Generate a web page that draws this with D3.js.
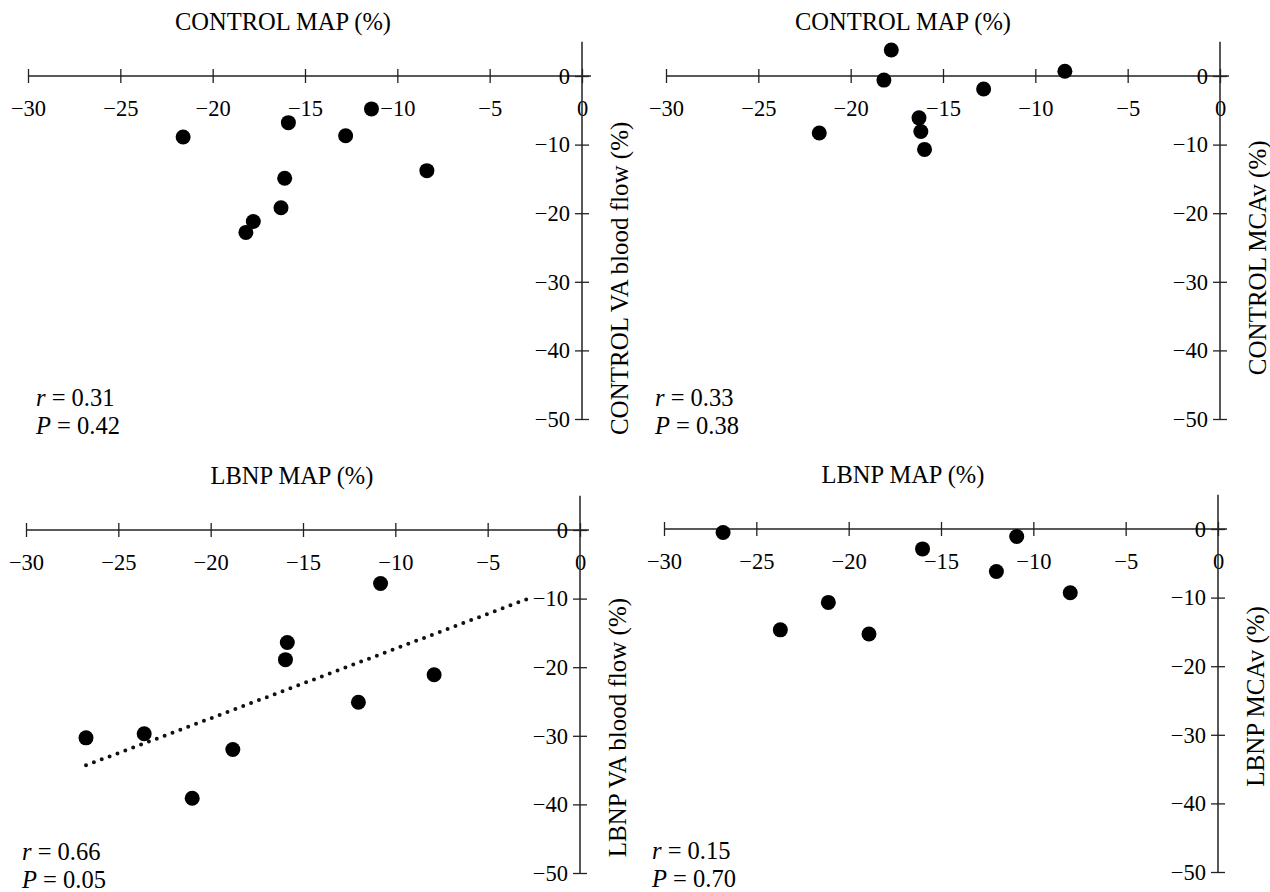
<!DOCTYPE html>
<html>
<head>
<meta charset="utf-8">
<script src="https://cdnjs.cloudflare.com/ajax/libs/d3/7.8.5/d3.min.js"></script>
<style>
  body { margin: 0; background: #fff; }
  svg text { font-family: "Liberation Serif", "DejaVu Serif", serif; fill: #000; }
</style>
</head>
<body>
<svg id="chart" width="1270" height="892"></svg>
<script>
// values (x = MAP %, y = flow/velocity %)
const xTicks = [-30, -25, -20, -15, -10, -5, 0];
const yTicks = [0, -10, -20, -30, -40, -50];

const ctrlVaX = [-21.6, -15.9, -11.4, -12.8, -8.4, -16.1, -16.3, -17.8, -18.2];
const ctrlVaY = [-8.9, -6.8, -4.8, -8.7, -13.8, -14.9, -19.2, -21.2, -22.8];

const ctrlMcaX = [-17.8, -18.2, -8.4, -12.8, -16.3, -16.2, -16.0, -21.7];
const ctrlMcaY = [3.8, -0.6, 0.7, -1.9, -6.1, -8.1, -10.7, -8.3];

const lbnpVaX = [-10.8, -15.85, -15.95, -7.9, -12.0, -26.75, -23.6, -18.8, -21.0];
const lbnpVaY = [-7.8, -16.4, -18.9, -21.1, -25.1, -30.3, -29.7, -32.0, -39.1];

const lbnpMcaX = [-26.8, -16.0, -10.9, -12.0, -8.0, -21.1, -23.7, -18.9];
const lbnpMcaY = [-0.5, -2.9, -1.1, -6.2, -9.3, -10.7, -14.7, -15.3];

const lbnpVaFitX = [-26.75, -2.9];
const lbnpVaFitY = [-34.3, -10.1];

const titles = ["CONTROL MAP (%)", "CONTROL MAP (%)", "LBNP MAP (%)", "LBNP MAP (%)"];
const yLabels = ["CONTROL  VA blood flow (%)", "CONTROL MCAv (%)", "LBNP VA blood flow (%)", "LBNP MCAv (%)"];
const rValues = ["0.31", "0.33", "0.66", "0.15"];
const pValues = ["0.42", "0.38", "0.05", "0.70"];

// panel placement
const panels = [
  { left: 28, top: 76, titleX: 283, statX: 36, labelAt: -29.5, xs: ctrlVaX, ys: ctrlVaY },
  { left: 666, top: 76, titleX: 903, statX: 655, labelAt: -26.5, xs: ctrlMcaX, ys: ctrlMcaY },
  { left: 26, top: 530, titleX: 292, statX: 22, labelAt: -28.8, xs: lbnpVaX, ys: lbnpVaY, fit: true },
  { left: 664, top: 529, titleX: 903, statX: 652, labelAt: -24.4, xs: lbnpMcaX, ys: lbnpMcaY },
];
const W = 554, H = 343;
const axisColor = "#222";
const fmt = d => d === 0 ? "0" : "\u2212" + Math.abs(d);

const svg = d3.select("#chart");

panels.forEach((p, i) => {
  const x = d3.scaleLinear().domain([-30, 0]).range([p.left, p.left + W]);
  const y = d3.scaleLinear().domain([0, -50]).range([p.top, p.top + H]);
  const g = svg.append("g");

  // title
  g.append("text")
    .attr("x", p.titleX)
    .attr("y", p.top - 46)
    .attr("text-anchor", "middle")
    .style("font-size", "24.5px")
    .text(titles[i]);

  // x axis (ticks cross the line)
  const xa = g.append("g")
    .attr("transform", `translate(0,${y(0)})`)
    .call(d3.axisBottom(x).tickValues(xTicks).tickSize(7).tickFormat(fmt));
  xa.select(".domain").remove();
  xa.selectAll(".tick line").attr("y1", -7).attr("y2", 7).attr("stroke", axisColor).attr("stroke-width", 1.3);
  xa.selectAll(".tick text")
    .attr("y", 40).attr("dy", null)
    .style("font-size", "22.5px");
  g.append("line")
    .attr("x1", x(-30)).attr("x2", x(0) + 9)
    .attr("y1", y(0)).attr("y2", y(0))
    .attr("stroke", axisColor).attr("stroke-width", 1.5);

  // y axis
  const ya = g.append("g")
    .attr("transform", `translate(${x(0)},0)`)
    .call(d3.axisLeft(y).tickValues(yTicks).tickSize(7).tickPadding(5).tickFormat(fmt));
  ya.select(".domain").remove();
  ya.selectAll(".tick line").attr("x1", -7).attr("x2", 7).attr("stroke", axisColor).attr("stroke-width", 1.3);
  ya.selectAll(".tick text")
    .style("font-size", "22.5px");
  g.append("line")
    .attr("x1", x(0)).attr("x2", x(0))
    .attr("y1", y(5)).attr("y2", y(-50))
    .attr("stroke", axisColor).attr("stroke-width", 1.5);

  // y axis label
  g.append("text")
    .attr("transform", `translate(${x(0) + 46},${y(p.labelAt)}) rotate(-90)`)
    .attr("text-anchor", "middle")
    .style("font-size", "25px")
    .text(yLabels[i]);

  // regression line
  if (p.fit) {
    g.append("path")
      .datum(d3.zip(lbnpVaFitX, lbnpVaFitY))
      .attr("d", d3.line().x(d => x(d[0])).y(d => y(d[1])))
      .attr("fill", "none")
      .attr("stroke", "#111")
      .attr("stroke-width", 4)
      .attr("stroke-linecap", "round")
      .attr("stroke-dasharray", "0 8.4");
  }

  // points
  g.selectAll("circle")
    .data(d3.zip(p.xs, p.ys))
    .join("circle")
    .attr("cx", d => x(d[0]))
    .attr("cy", d => y(d[1]))
    .attr("r", 7.5)
    .attr("fill", "#000");

  // stats
  const st = g.append("g").style("font-size", "24.5px");
  const t1 = st.append("text").attr("x", p.statX).attr("y", y(-47) + 8);
  t1.append("tspan").style("font-style", "italic").text("r");
  t1.append("tspan").text(" = " + rValues[i]);
  const t2 = st.append("text").attr("x", p.statX).attr("y", y(-51) + 8);
  t2.append("tspan").style("font-style", "italic").text("P");
  t2.append("tspan").text(" = " + pValues[i]);
});
</script>
</body>
</html>
